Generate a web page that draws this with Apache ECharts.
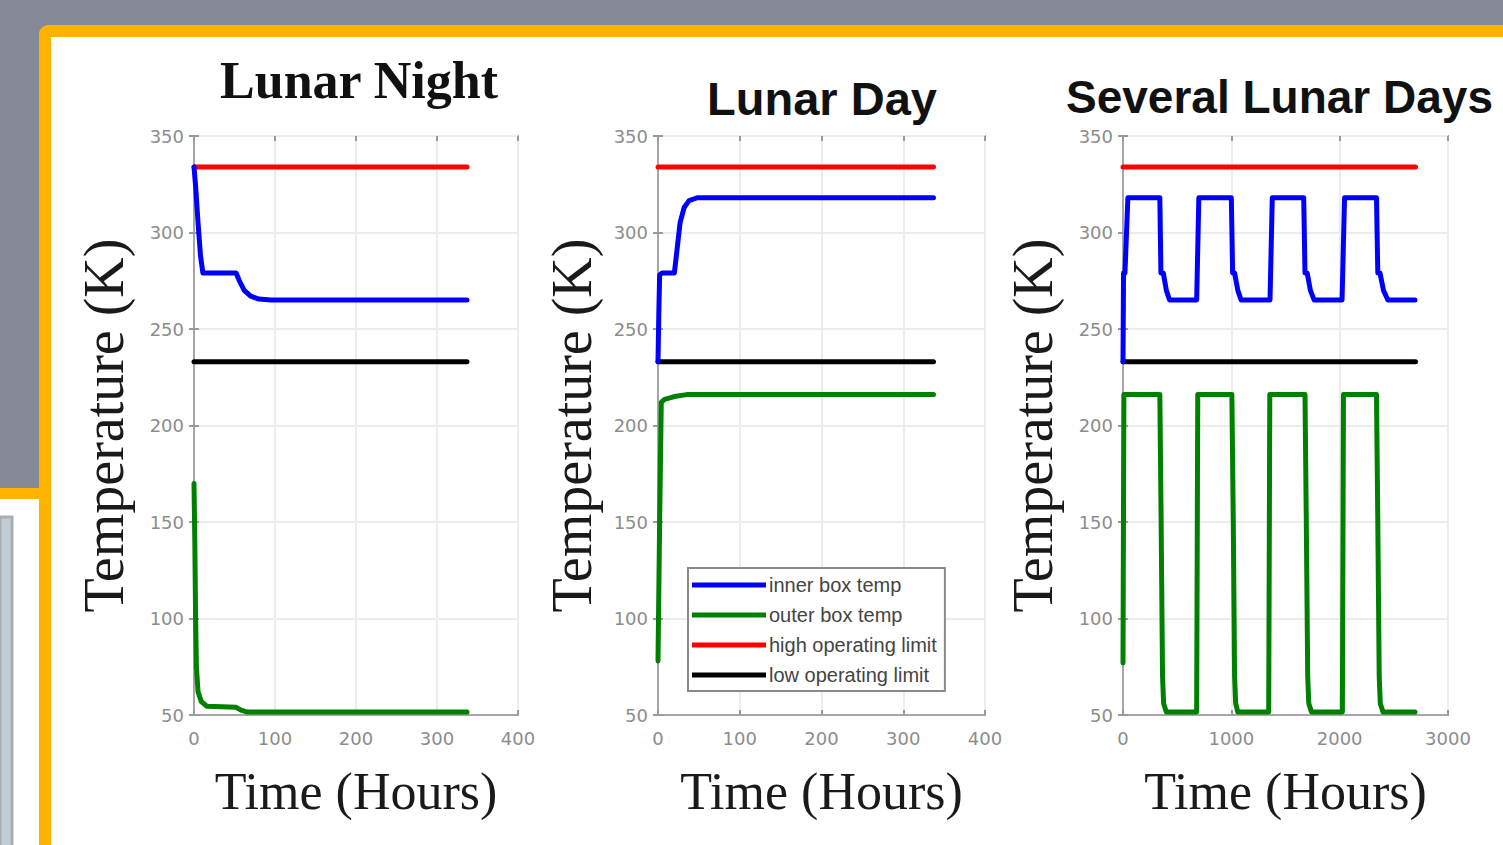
<!DOCTYPE html>
<html>
<head>
<meta charset="utf-8">
<script src="https://cdn.jsdelivr.net/npm/echarts@6/dist/echarts.min.js"></script>
<style>
  html, body { margin: 0; padding: 0; background: #fff; }
  #main { width: 1503px; height: 845px; }
</style>
</head>
<body>
<div id="main"></div>
<script>
// series names (shared legend)
const seriesNames = ['inner box temp', 'outer box temp', 'high operating limit', 'low operating limit']
const panelTitles = ['Lunar Night', 'Lunar Day', 'Several Lunar Days']

// axis ranges / ticks
const tempTicks = [50, 100, 150, 200, 250, 300, 350]
const hourMax = [400, 400, 3000]
const hourStep = [100, 100, 1000]

// Lunar Night  [hours, K]
const nightInner = [[0, 334], [2, 324], [5, 305], [8, 288], [11, 279], [52, 279], [56, 275], [62, 270], [70, 267], [80, 265.5], [95, 265], [337, 265]]
const nightOuter = [[0, 170], [1, 140], [2, 100], [3, 75], [5, 62], [9, 57], [16, 54.5], [52, 54], [58, 52.5], [66, 51.5], [337, 51.5]]
const nightHigh = [[0, 334], [337, 334]]
const nightLow = [[0, 233], [337, 233]]

// Lunar Day
const dayInner = [[0, 233], [1, 258], [2, 278], [5, 279], [20, 279], [23, 290], [27, 305], [32, 313], [38, 316.5], [48, 318], [337, 318]]
const dayOuter = [[0, 78], [2, 150], [4, 212], [8, 213.5], [20, 215], [35, 216], [337, 216]]
const dayHigh = [[0, 334], [337, 334]]
const dayLow = [[0, 233], [337, 233]]

// Several Lunar Days
const multiInner = [[0, 233], [5, 279], [18, 279], [45, 318], [340, 318], [350, 279], [372, 279], [400, 270], [430, 265], [680, 265],
  [700, 318], [1000, 318], [1012, 279], [1030, 279], [1060, 270], [1090, 265], [1357, 265],
  [1378, 318], [1668, 318], [1680, 279], [1700, 279], [1730, 270], [1765, 265], [2022, 265],
  [2045, 318], [2340, 318], [2352, 279], [2372, 279], [2405, 270], [2445, 265], [2695, 265]]
const multiOuter = [[0, 77], [8, 216], [340, 216], [352, 150], [365, 70], [375, 56], [400, 51.5], [680, 51.5],
  [690, 216], [1005, 216], [1018, 150], [1030, 70], [1040, 56], [1060, 51.5], [1345, 51.5],
  [1355, 216], [1680, 216], [1692, 150], [1705, 70], [1715, 56], [1740, 51.5], [2025, 51.5],
  [2035, 216], [2340, 216], [2352, 150], [2365, 70], [2375, 56], [2400, 51.5], [2695, 51.5]]
const multiHigh = [[0, 334], [2700, 334]]
const multiLow = [[0, 233], [2700, 233]]

const panelData = [
  [nightInner, nightOuter, nightHigh, nightLow],
  [dayInner, dayOuter, dayHigh, dayLow],
  [multiInner, multiOuter, multiHigh, multiLow]
]

const lineColors = ['#0000ff', '#008000', '#ff0000', '#000000']
const gridLefts = [194, 658, 1123]
const gridWidths = [324, 327, 325]
const yNameGap = [62, 58, 62]

const chart = echarts.init(document.getElementById('main'), null, { renderer: 'svg' })

const axisGray = '#a6a6a6'
const labelFont = { color: '#8c8c8c', fontSize: 18, fontFamily: 'DejaVu Sans' }

const grids = []
const xAxes = []
const yAxes = []
const series = []

gridLefts.forEach((left, i) => {
  grids.push({
    left: left, top: 136, width: gridWidths[i], height: 579,
    show: true, borderColor: axisGray, borderWidth: 2, backgroundColor: '#fff'
  })
  // bottom axis
  xAxes.push({
    type: 'value', gridIndex: i, min: 0, max: hourMax[i], interval: hourStep[i],
    name: 'Time (Hours)', nameLocation: 'middle', nameGap: 50,
    nameTextStyle: { fontFamily: 'Liberation Serif', fontSize: 52, color: '#1a1a1a' },
    axisLine: { show: true, lineStyle: { color: axisGray, width: 2 } },
    axisTick: { show: true, inside: true, length: 5, lineStyle: { color: '#999', width: 2 } },
    axisLabel: Object.assign({ margin: 14, formatter: (v) => String(v) }, labelFont),
    splitLine: { show: true, lineStyle: { color: '#ececec', width: 2 } }
  })
  yAxes.push({
    type: 'value', gridIndex: i, min: 50, max: 350, interval: 50,
    name: 'Temperature (K)', nameLocation: 'middle', nameGap: yNameGap[i], nameRotate: 90,
    nameTextStyle: { fontFamily: 'Liberation Serif', fontSize: 56, color: '#1a1a1a' },
    axisLine: { show: true, lineStyle: { color: axisGray, width: 2 } },
    axisTick: { show: true, inside: true, length: 5, lineStyle: { color: '#999', width: 2 } },
    axisLabel: Object.assign({ margin: 10 }, labelFont),
    splitLine: { show: true, lineStyle: { color: '#ececec', width: 2 } }
  })
})
// box ticks on top / right
gridLefts.forEach((left, i) => {
  xAxes.push({
    type: 'value', gridIndex: i, position: 'top', min: 0, max: hourMax[i], interval: hourStep[i],
    axisLine: { show: false }, axisLabel: { show: false }, splitLine: { show: false },
    axisTick: { show: true, inside: true, length: 5, lineStyle: { color: '#999', width: 2 } }
  })
  yAxes.push({
    type: 'value', gridIndex: i, position: 'right', min: 50, max: 350, interval: 50,
    axisLine: { show: false }, axisLabel: { show: false }, splitLine: { show: false },
    axisTick: { show: true, inside: true, length: 5, lineStyle: { color: '#999', width: 2 } }
  })
})

panelData.forEach((lines, i) => {
  lines.forEach((d, k) => {
    series.push({
      name: seriesNames[k],
      type: 'line',
      xAxisIndex: i,
      yAxisIndex: i,
      data: d,
      showSymbol: false,
      symbol: 'none',
      z: k >= 2 ? 2 : 3,
      itemStyle: { color: lineColors[k] },
      lineStyle: { color: lineColors[k], width: 5, join: 'round', cap: 'round' }
    })
  })
})

const option = {
  animation: false,
  backgroundColor: '#ffffff',
  graphic: [
    { type: 'rect', z: -10, shape: { x: 0, y: 0, width: 1503, height: 489 }, style: { fill: '#858a96' } },
    { type: 'rect', z: -10, shape: { x: 0, y: 488, width: 45, height: 11 }, style: { fill: '#ffb300' } },
    { type: 'rect', z: -10, shape: { x: 0, y: 517, width: 12, height: 340 }, style: { fill: '#c3ccd2', stroke: '#a9aeb3', lineWidth: 3 } },
    { type: 'rect', z: -9, shape: { x: 39, y: 25, width: 1500, height: 860, r: [9, 0, 0, 0] }, style: { fill: '#ffb300' } },
    { type: 'rect', z: -8, shape: { x: 51, y: 37, width: 1500, height: 860 }, style: { fill: '#ffffff' } },
    { type: 'text', z: 5, style: { text: panelTitles[0], x: 359, y: 80, align: 'center', verticalAlign: 'middle', fontFamily: 'Liberation Serif', fontWeight: 'bold', fontSize: 52, fill: '#111' } },
    { type: 'text', z: 5, style: { text: panelTitles[1], x: 822, y: 98, align: 'center', verticalAlign: 'middle', fontFamily: 'Liberation Sans', fontWeight: 'bold', fontSize: 47, fill: '#111' } },
    { type: 'text', z: 5, style: { text: panelTitles[2], x: 1066, y: 97, align: 'left', verticalAlign: 'middle', fontFamily: 'Liberation Sans', fontWeight: 'bold', fontSize: 46, fill: '#111' } }
  ],
  legend: {
    data: seriesNames,
    orient: 'vertical',
    left: 688,
    top: 568,
    icon: 'rect',
    itemWidth: 74,
    itemHeight: 5,
    itemGap: 8,
    padding: [6, 8, 5, 4],
    borderColor: '#8a8a8a',
    borderWidth: 2,
    backgroundColor: '#fff',
    textStyle: { fontFamily: 'Liberation Sans', fontSize: 20, lineHeight: 22, color: '#444', padding: [0, 0, 0, -2] }
  },
  grid: grids,
  xAxis: xAxes,
  yAxis: yAxes,
  series: series
}
chart.setOption(option)
</script>
</body>
</html>
